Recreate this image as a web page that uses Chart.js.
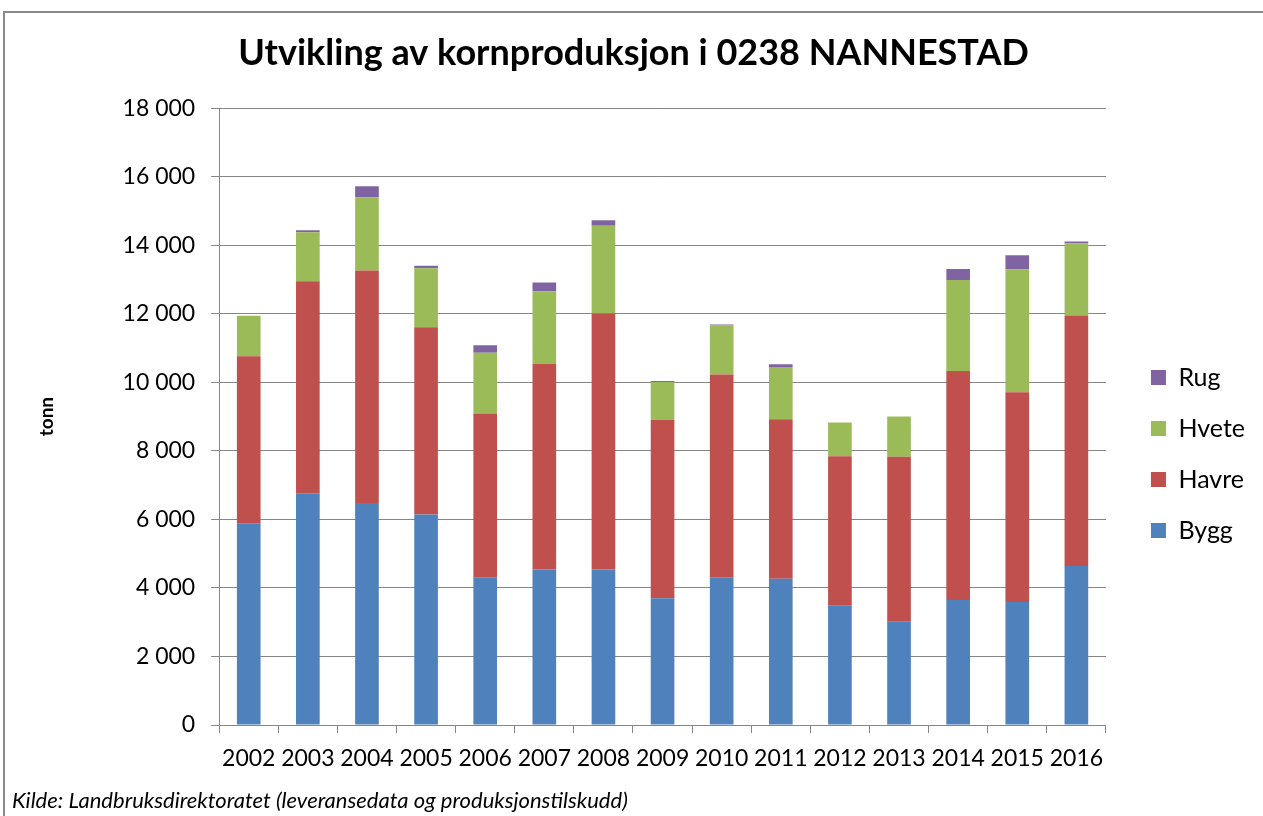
<!DOCTYPE html>
<html>
<head>
<meta charset="utf-8">
<script src="https://cdn.jsdelivr.net/npm/chart.js@4"></script>
<style>
  html, body { margin: 0; padding: 0; background: #fff; }
  #wrap { position: absolute; left: 0; top: 0; width: 1263px; height: 816px; }
  #frame { position: absolute; left: 3px; top: 11px; width: 1300px; height: 900px;
           border-left: 2px solid #8a8a8a; border-top: 2px solid #8a8a8a; }
</style>
</head>
<body>
<div id="wrap">
  <div id="frame"></div>
  <canvas id="chart" width="1263" height="816"></canvas>
</div>
<script>
const years = ['2002','2003','2004','2005','2006','2007','2008','2009','2010','2011','2012','2013','2014','2015','2016'];
const bygg  = [5890, 6760, 6480, 6140, 4300, 4540, 4540, 3700, 4300, 4270, 3480, 3010, 3650, 3590, 4640];
const havre = [4870, 6190, 6780, 5470, 4790, 6000, 7470, 5210, 5930, 4650, 4360, 4820, 6680, 6120, 7310];
const hvete = [1180, 1430, 2140, 1720, 1770, 2120, 2560, 1100, 1430, 1530,  985, 1170, 2660, 3590, 2110];
const rug   = [   0,   60,  320,   70,  220,  250,  160,   30,   30,   80,    0,    0,  320,  410,   50];

const fontFamily = 'Lato, "Open Sans", sans-serif';
const fmt = v => String(v).replace(/\B(?=(\d{3})+(?!\d))/g, ' ');

const ds = (label, data, color) => ({
  label, data, backgroundColor: color, borderWidth: 0,
  barPercentage: 0.4, categoryPercentage: 1.0
});

new Chart(document.getElementById('chart').getContext('2d'), {
  type: 'bar',
  data: {
    labels: years,
    datasets: [
      ds('Bygg', bygg, '#4F81BD'),
      ds('Havre', havre, '#C0504D'),
      ds('Hvete', hvete, '#9BBB59'),
      ds('Rug', rug, '#8064A2')
    ]
  },
  options: {
    responsive: false,
    animation: false,
    layout: { padding: { top: 32, left: 12, right: 8, bottom: 2 } },
    scales: {
      x: {
        stacked: true,
        grid: { display: true, drawOnChartArea: false, offset: true, color: '#868686', tickLength: 8 },
        border: { color: '#868686' },
        ticks: { color: '#000', font: { family: fontFamily, size: 23 }, padding: 12, maxRotation: 0 }
      },
      y: {
        stacked: true,
        min: 0, max: 18000,
        grid: { color: '#868686', tickLength: 8, lineWidth: 1 },
        border: { color: '#868686' },
        ticks: { stepSize: 2000, color: '#000', font: { family: fontFamily, size: 23 }, padding: 16,
                 callback: v => fmt(v) },
        title: { display: true, text: 'tonn', color: '#000', font: { family: fontFamily, size: 19, weight: 'bold' },
                 padding: { top: 23, bottom: 62 } }
      },
      // empty spacer axis keeps a gap between the plot and the legend
      y2: {
        position: 'right',
        min: 0, max: 18000,
        grid: { drawOnChartArea: false, drawTicks: false },
        border: { display: false },
        ticks: { display: false },
        afterFit: s => { s.width = 19; }
      }
    },
    plugins: {
      title: {
        display: true,
        text: 'Utvikling av kornproduksjon i 0238 NANNESTAD',
        color: '#000',
        font: { family: fontFamily, size: 36, weight: 'bold' },
        padding: { top: 0, bottom: 33 }
      },
      subtitle: {
        display: true,
        position: 'bottom',
        align: 'start',
        text: 'Kilde: Landbruksdirektoratet (leveransedata og produksjonstilskudd)',
        color: '#000',
        font: { family: fontFamily, size: 22, style: 'italic' },
        padding: { top: 3, bottom: 0 }
      },
      legend: {
        position: 'right',
        reverse: true,
        title: { display: true, text: ' ', font: { size: 10 }, padding: { top: 50, bottom: 0 } },
        labels: {
          color: '#000',
          font: { family: fontFamily, size: 25 },
          boxWidth: 15, boxHeight: 15,
          padding: 26
        }
      },
      tooltip: { enabled: false }
    }
  }
});
</script>
</body>
</html>
